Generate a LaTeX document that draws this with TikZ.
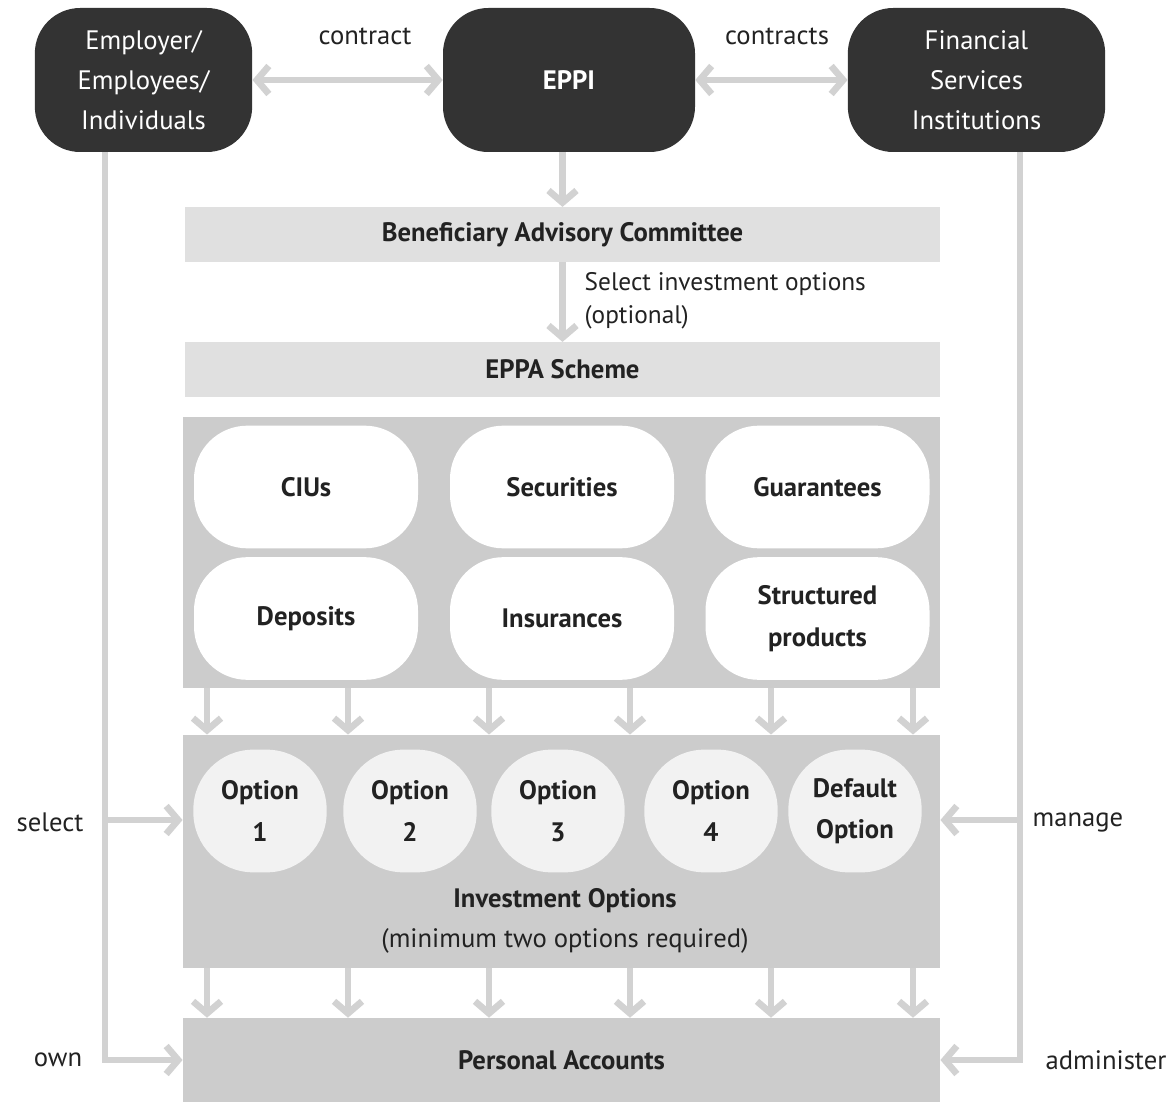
\documentclass[tikz,border=0pt]{standalone}
\usepackage{fontspec}
\setmainfont{PT Sans}
\usetikzlibrary{arrows.meta, positioning, calc}
\definecolor{boxdark}{HTML}{333333}
\definecolor{barlight}{HTML}{E0E0E0}
\definecolor{boxmid}{HTML}{CCCCCC}
\definecolor{arrgray}{HTML}{D2D2D2}
\definecolor{blob}{HTML}{F2F2F2}
\definecolor{ink}{HTML}{222222}

\begin{document}
\begin{tikzpicture}[
  x=0.75pt, y=-0.75pt,
  every node/.style={font=\fontsize{20}{30}\selectfont, text=ink, align=center},
  darkbox/.style={fill=boxdark, rounded corners=34pt, minimum height=108pt,
    text=white},
  bar/.style={fill=barlight, minimum width=566pt, minimum height=41pt,
    font=\fontsize{20}{30}\selectfont\bfseries},
  panel/.style={fill=boxmid, minimum width=568pt},
  asset/.style={fill=white, rounded corners=40pt, minimum width=168pt,
    minimum height=92pt, font=\fontsize{20}{31}\selectfont\bfseries},
  optblob/.style={fill=blob, rounded corners=45pt, minimum width=100pt,
    minimum height=92pt, font=\fontsize{20}{31}\selectfont\bfseries},
  arr/.style={-{Straight Barb[length=9pt, width=21pt]}, line width=5pt, arrgray},
  dblarr/.style={{Straight Barb[length=9pt, width=21pt]}-{Straight Barb[length=9pt, width=21pt]},
    line width=5pt, arrgray},
  lbl/.style={font=\fontsize{20}{24}\selectfont}
]
\useasboundingbox (0,0) rectangle (1175,1102);

% top row
\node[darkbox, minimum width=163pt] (emp)  at (143.5,80) {Employer/\\Employees/\\Individuals};
\node[darkbox, minimum width=189pt, font=\fontsize{20}{30}\selectfont\bfseries] (eppi) at (569,80) {EPPI};
\node[darkbox, minimum width=193pt] (fsi)  at (976.5,80) {Financial\\Services\\Institutions};
\draw[dblarr] (emp.east) -- (eppi.west);
\draw[dblarr] (eppi.east) -- (fsi.west);
\node[lbl] (lcontract)  at (365,36) {contract};
\node[lbl] (lcontracts) at (777,36) {contracts};

% scheme
\node[bar] (bac)  at (562.5,234.5) {Beneficiary Advisory Committee};
\node[bar] (eppa) at (562.5,369.5) {EPPA Scheme};
\draw[arr] (eppi.south -| bac.north) -- (bac.north);
\draw[arr] (bac.south) -- (eppa.north);
\node[lbl, anchor=west, align=left, font=\fontsize{19}{25}\selectfont] (lselect) at (580,301)
  {Select investment options\\(optional)};

% assets
\node[panel, minimum height=203pt] (assets) at (561.5,552.5) {};
\node[asset] (cius)   at (306,487)   {CIUs};
\node[asset] (secs)   at (562,487)   {Securities};
\node[asset] (guar)   at (817.5,487) {Guarantees};
\node[asset] (depo)   at (306,618.5) {Deposits};
\node[asset] (insu)   at (562,618.5) {Insurances};
\node[asset] (struct) at (817.5,618.5) {Structured\\products};

% investment options
\node[panel, minimum height=175pt] (invopt) at (561.5,851.5) {};
\node[optblob] (opt1)   at (260,811) {Option\\1};
\node[optblob] (opt2)   at (410,811) {Option\\2};
\node[optblob] (opt3)   at (558,811) {Option\\3};
\node[optblob] (opt4)   at (711,811) {Option\\4};
\node[optblob] (optdef) at (855,811) {Default\\Option};
\node (invlbl) at (565,921) {\textbf{Investment Options}\\(minimum two options required)};

% personal accounts
\node[panel, minimum height=63pt, font=\fontsize{20}{30}\selectfont\bfseries] (pacc) at (561.5,1060) {Personal Accounts};

\foreach \x in {207,348,489,630,771,913}{
  \draw[arr] (\x,0 |- assets.south) -- (\x,0 |- invopt.north);
  \draw[arr] (\x,0 |- invopt.south) -- (\x,0 |- pacc.north);
}

% side connectors
\coordinate (selpt) at (105,820);
\coordinate (manpt) at (1020,820);
\draw[arr] (105,0 |- emp.south) |- (pacc.west);
\draw[arr] (selpt) -- (selpt -| invopt.west);
\draw[arr] (1020,0 |- fsi.south) |- (pacc.east);
\draw[arr] (manpt) -- (manpt -| invopt.east);
\node[lbl] (lsel)   at (50,822)   {select};
\node[lbl] (lown)   at (58,1060)  {own};
\node[lbl] (lman)   at (1078,822) {manage};
\node[lbl] (ladm)   at (1106,1060) {administer};
\end{tikzpicture}
\end{document}
